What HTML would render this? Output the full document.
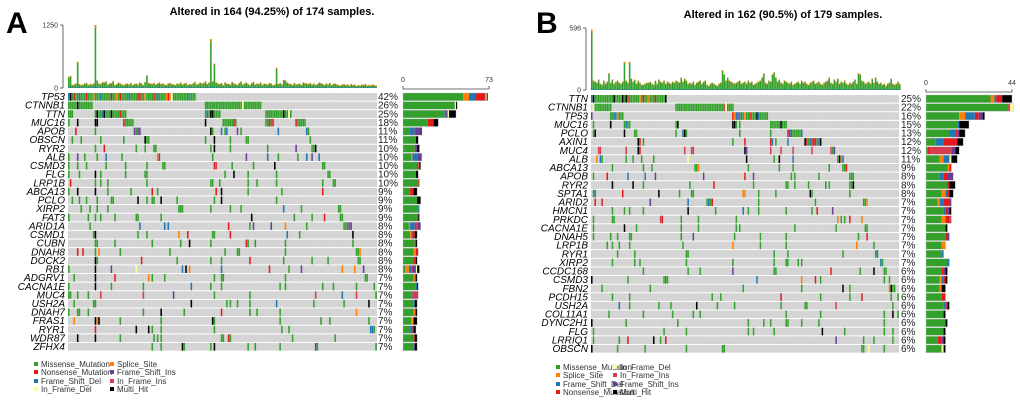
<!DOCTYPE html>
<html><head><meta charset="utf-8"><style>
html,body{margin:0;padding:0;background:#fff;width:1020px;height:400px;overflow:hidden}
svg{display:block;font-family:"Liberation Sans",sans-serif}
</style></head><body>
<svg id="chart" width="1020" height="400" viewBox="0 0 1020 400"></svg>
<script>
const COLORS={m:'#33a02c',n:'#e31a1c',d:'#1f78b4',s:'#ff7f00',i:'#6a3d9a',I:'#d53e4f',D:'#ffff99',h:'#000000'};
const ORDER=['m','s','d','n','I','i','D','h'];

// ---- Panel A data ----
const genesA=['TP53','CTNNB1','TTN','MUC16','APOB','OBSCN','RYR2','ALB','CSMD3','FLG','LRP1B','ABCA13','PCLO','XIRP2','FAT3','ARID1A','CSMD1','CUBN','DNAH8','DOCK2','RB1','ADGRV1','CACNA1E','MUC4','USH2A','DNAH7','FRAS1','RYR1','WDR87','ZFHX4'];
const pctA=['42%','26%','25%','18%','11%','11%','10%','10%','10%','10%','10%','9%','9%','9%','9%','8%','8%','8%','8%','8%','8%','7%','7%','7%','7%','7%','7%','7%','7%','7%'];
const rowsA=[
'0dhmnmmdmmmnmmmsmmmdmmmmmnmmsmnmmmmdmmmmnnmmsmmmmnmdmmmmsnsDmmmmmmmmdmmmm',
'0mmmmmhmmmmmmmm 77mmmmmmmmmmmmmmmmmmmmmDmmmmmmmmmm',
'0mmm 15mhmmdhmmmhmmmmnmmm 77mdmhhmmmm 111mmmmmmmmmmhmmDm',
'0m 5h 15hh 31nmmmmm 77h 87mmmmmmnm 111mmnmn 128nmmmmm',
'4n 15m 37imii 80hm 86d 88md 95i 97m 118d 134dm',
'2m 7m 18m 31m 43hmm 77m 82h 91m 100mm 136m',
'15m 20n 38m 43m 48mm 80m 82h 91m 112m 128i 137mmh',
'0m 5i 9m 16m 21d 30m 50si 81m 100i 112d 118m 129m 134d 137i 141d',
'0m 5m 10m 21m 32m 44m 53mm 82nI 92m 104m 116h 143mm',
'0m 6m 15h 18m 32m 43mm 88m 93h 101m 117m 146mm',
'1n 15m 18m 22m 44m 80mm 85m 101m 106m 117m 143m 149mm',
'0m 5h 15h 22m 35m 47n 50m 83n 86h 101m 120m 143n',
'2m 6m 10m 16m 24mm 39h 44m 47mm 52h 61m 82m 86h 117m',
'7m 12m 16m 22m 62mmm 80m 91m 97m 121d 131m 152mm',
'0m 11m 15m 18m 26m 38mm 52m 103h 127m 137m 144n 153mm',
'12m 40d 54d 56d 90n 102m 104i 114i 122s 134m 155mmIdi',
'14mh 39m 44m 62s 67n 81mm 91n 123d 130m 160h',
'15mm 26m 47m 63m 68h 80m 100nm 105m 122m 160m',
'5n 8n 15m 17s 29m 57m 88m 95mm 122m 162mms',
'15hm 41n 61m 80m 86m 102n 121m 137m 146m 163mm',
'0m 15h 24i 38D 64d 66h 68s 86d 113n 124m 131i 154s 161s 166i',
'3m 15h 26n 45s 47m 54m 82m 86mm 122m 167mm',
'0m 15h 24m 42m 69d 80m 86m 119m 122m 143m 149m 162m 172m',
'0mm 5m 11m 18I 42I 59i 82m 102m 139I 154d 162I 173m',
'3m 14mm 69h 89m 91m 95m 102m 117d 138m 155m 169h',
'0m 5mm 11m 42m 52h 65m 86n 102m 106m 119m 162s',
'3s 15h 16s 17h 29m 52m 81h 82m 119m 142m 147m 169m',
'15n 38h 45h 47m 52m 82m 120m 124m 170dd 172m',
'5h 15h 29m 48m 50m 52m 86mm 90n 91m 126m 150m',
'47m 52m 64h 65m 80m 82h 101m 105m 119m 139i 140m 173m'
];
const topA=[220,240,60,70,90,520,80,60,70,90,100,60,80,70,90,1250,150,90,80,120,110,130,70,90,100,140,60,80,110,90,70,60,80,90,70,100,60,80,90,70,110,90,60,120,250,100,90,80,100,70,90,110,80,90,70,60,90,100,80,70,60,90,80,110,70,90,100,60,80,70,90,120,70,80,110,90,100,130,80,110,970,130,480,110,90,80,100,60,110,90,80,70,120,90,80,60,100,130,70,90,110,80,60,100,120,70,90,80,110,60,90,80,70,100,90,60,70,400,80,100,70,160,150,110,90,80,60,100,70,80,90,60,110,100,90,80,100,70,90,60,80,110,100,80,60,90,70,100,60,80,90,70,60,50,70,80,60,70,50,80,60,70,40,60,50,70,60,80,50,60,50,70,60,50];
const tickA=['0','1250'];const sideTickA=['0','73'];const sideMaxA=73;

// ---- Panel B data ----
const genesB=['TTN','CTNNB1','TP53','MUC16','PCLO','AXIN1','MUC4','ALB','ABCA13','APOB','RYR2','SPTA1','ARID2','HMCN1','PRKDC','CACNA1E','DNAH5','LRP1B','RYR1','XIRP2','CCDC168','CSMD3','FBN2','PCDH15','USH2A','COL11A1','DYNC2H1','FLG','LRRIQ1','OBSCN'];
const pctB=['25%','22%','16%','15%','13%','12%','12%','11%','9%','8%','8%','8%','7%','7%','7%','7%','7%','7%','7%','7%','6%','6%','6%','6%','6%','6%','6%','6%','6%','6%'];
const rowsB=[
'0dhmmmmmmmmmmmhmmmmhmhnmmmmmmsmnmmsmmmnmmmmmh',
'1Dmmmmmmmmmm 49mmmmmmmmmmmmmmmmmmmmmmmmmmmmIDmmmm',
'0i 11mmddsmmm 82nsdimdmsmmnmmmhdmmmmm',
'1m 11h 19mdmm 49mh 82hhm 86m 104mmmmmmhmmm',
'1mh 19h 25mm 49m 53dhm 86m 104m 114nidmmmmmd',
'27hn 30m 82m 89n 104nd 107m 114d 124hnmdnnnmdh',
'4II 20I 27h 28n 54I 58II 89hi 104I 110I 117I 128I 139Imi',
'3s 5dm 20m 24m 29m 36m 56D 90h 106m 109h 117d 143mhsd',
'12m 30m 35m 60mms 91m 109m 117m 138m 146mmn',
'1m 9n 21d 31d 37i 65i 89n 94i 116m 118m 132m 150mmm',
'12h 24h 30m 57m 71n 94m 113mm 118m 126m 136m 138m 150mmh',
'1md 18n 39h 51m 58m 59m 88s 89s 97m 107m 127h 128m 150m',
'2n 6n 34i 56d 67mdmn 97m 130m 158mms',
'12m 19m 22m 30m 56h 72m 88d 91m 97m 113m 128m 131n 140i',
'1m 12mm 40In 52m 62m 84m 143s 145m 147m 150n 157s',
'1m 19h 26m 52m 62m 84m 86m 118m 142m 159mm',
'1m 11m 15m 22mm 52m 59i 83m 98m 113m 155m 160n',
'9m 12m 16m 22m 53m 82s 98m 113m 154s 164m',
'15m 25m 55mm 106m 114m 146m 165md',
'12m 25m 28m 55m 82m 106m 113mm 120m 122m 168dm',
'30m 56m 63m 82i 106mm 139n 156m 164h 170mm',
'0h 21m 42mmm 96d 122s 130n 133m 170m 173m',
'6m 34m 88m 122m 146h 150m 173shmm',
'12m 22m 70m 75m 110n 133m 150m 157n 174m 178m',
'16d 22m 39m 46m 61h 73m 83m 110m 124mm 142I 175m',
'10m 30m 47m 59m 63m 113m 133m 170m 175h 178m',
'0h 20m 50m 91m 100m 104m 113m 114m 122m 132m 170m',
'1m 42m 55m 91m 94m 106m 134h 147m 170m 175m',
'1m 16m 21n 36h 40m 43n 142i 158m 164m 175m',
'0h 15m 31m 55m 76mm 157mm 161D 170m'
];
const topB=[580,90,80,70,100,60,50,90,60,80,160,70,100,60,80,90,70,60,80,270,90,70,270,110,80,100,60,90,70,50,50,60,70,70,80,60,50,90,60,100,80,70,90,60,80,70,60,80,70,90,80,70,120,80,110,90,60,70,60,80,50,70,80,90,60,80,90,50,40,60,70,60,50,40,60,70,190,150,90,120,90,80,70,60,70,80,90,60,70,80,60,90,70,80,50,60,70,80,90,120,160,70,60,90,80,150,170,120,80,100,70,60,90,80,70,60,80,50,60,70,80,60,90,70,80,60,50,70,80,90,60,70,80,60,50,70,80,90,120,70,60,100,80,110,60,80,70,90,60,50,70,60,80,100,60,160,150,90,80,60,70,80,60,110,70,120,80,60,70,50,60,40,60,70,110,60,50,60,80,60];
const tickB=['0','596'];const sideTickB=['0','44'];const sideMaxB=44;

const svg=document.getElementById('chart');
const NS='http://www.w3.org/2000/svg';
function mk(tag,attrs,parent){const e=document.createElementNS(NS,tag);for(const k in attrs)e.setAttribute(k,attrs[k]);(parent||svg).appendChild(e);return e;}
function parseRow(str,n){const cells=new Array(n).fill(null);str.trim().split(/\s+/).forEach(tok=>{const m=tok.match(/^(\d+)(.*)$/);let s=+m[1];for(const c of m[2]){if(s<n)cells[s]=c;s++;}});return cells;}

function panel(cfg){
  const g=mk('g',{});
  
  
  const N=cfg.n, cw=(cfg.x1-cfg.x0)/N;
  const xS=i=>cfg.x0+i*cw;
  const L=mk('text',{x:cfg.letterX,y:33,'font-size':30,'font-weight':'bold'},g);L.textContent=cfg.letter;
  
  const T=mk('text',{x:cfg.titleX,y:cfg.titleY,'font-size':11,'font-weight':'bold','text-anchor':'middle'},g);T.textContent=cfg.title;
  
  const tg=mk('g',{},g);
  
  const yTop=cfg.topY0,yBot=cfg.topY1,ymax=+cfg.ticks[1];
  const yS=v=>yBot-(v/ymax)*(yBot-yTop);
  mk('line',{x1:cfg.x0-5,x2:cfg.x0-5,y1:yTop,y2:yBot,stroke:'#444','stroke-width':0.8},tg);
  cfg.ticks.forEach(t=>{const y=yS(+t);mk('line',{x1:cfg.x0-8,x2:cfg.x0-5,y1:y,y2:y,stroke:'#444','stroke-width':0.8},tg);
    const tx=mk('text',{x:cfg.x0-10,y:y+2.5,'font-size':7,'text-anchor':'end',fill:'#333'},tg);tx.textContent=t;
    });
  cfg.top.forEach((v,i)=>{
    const y=yS(v),h=yBot-y;
    const b=mk('rect',{x:xS(i),y:y,width:cw*0.9,height:h,fill:COLORS.m},tg);
    
    mk('rect',{x:xS(i),y:y,width:cw*0.9,height:Math.min(h,Math.max(0.8,h*0.05)),fill:COLORS.s},tg);
    mk('rect',{x:xS(i),y:yBot-Math.max(0.6,h*0.03),width:cw*0.9,height:Math.max(0.6,h*0.03),fill:COLORS.d},tg);
  });
  const mg=mk('g',{},g);
  const rh=cfg.rh;
  const sx0=cfg.sideX0,sx1=cfg.sideX1,sS=v=>(v/cfg.sideMax)*(sx1-sx0);
  const sg=mk('g',{},g);
  mk('path',{d:`M${sx0},${cfg.sideAxisY-3}V${cfg.sideAxisY}H${sx1}V${cfg.sideAxisY-3}`,fill:'none',stroke:'#444','stroke-width':0.8},sg);
  cfg.sideTicks.forEach(t=>{const tx=mk('text',{x:sx0+sS(+t),y:cfg.sideAxisY-7,'font-size':7,'text-anchor':'middle',fill:'#333'},sg);tx.textContent=t;
    });
  cfg.genes.forEach((gn,r)=>{
    const y=cfg.y0+r*rh;
    mk('rect',{x:cfg.x0,y:y,width:cfg.x1-cfg.x0,height:rh-1,fill:'#d2d2d2'},mg);
    const cells=parseRow(cfg.rows[r],N);
    const counts={};
    cells.forEach((c,i)=>{if(!c)return;counts[c]=(counts[c]||0)+1;
      const rc=mk('rect',{x:xS(i),y:y,width:cw*0.92,height:rh-1,fill:COLORS[c]},mg);
      });
    const lb=mk('text',{x:cfg.x0-3,y:y+rh-1.5,'font-size':10,'font-style':'italic','text-anchor':'end'},g);lb.textContent=gn;
    
    const pt=mk('text',{x:cfg.pctX,y:y+rh-1.5,'font-size':10,fill:'#222'},g);pt.textContent=cfg.pct[r];
    
    let cx=sx0;
    ORDER.forEach(k=>{if(!counts[k])return;const w=sS(counts[k]);
      const br=mk('rect',{x:cx,y:y,width:w,height:rh-1,fill:COLORS[k]},sg);
      cx+=w;});
    mk('rect',{x:sx0,y:y,width:cx-sx0,height:rh-1,fill:'none',stroke:'#bbb','stroke-width':0.4},sg);
  });
  for(let i=1;i<N;i++)mk('line',{x1:xS(i)-0.1,x2:xS(i)-0.1,y1:cfg.y0,y2:cfg.y0+rh*cfg.genes.length,stroke:'#fff','stroke-width':0.15,opacity:0.6},mg);
  const lg=mk('g',{},g);
  cfg.legend.forEach(([lbl,c,x,y])=>{
    mk('rect',{x:x,y:y-5,width:4,height:4,fill:COLORS[c]},lg);
    const t=mk('text',{x:x+7,y:y,'font-size':8,fill:'#333'},lg);t.textContent=lbl;
    
  });
}

panel({name:'panel-a',letter:'A',letterX:6,title:'Altered in 164 (94.25%) of 174 samples.',titleX:272,titleY:15,
  n:174,x0:68,x1:377,topY0:25,topY1:88,top:topA,ticks:tickA,y0:93,rh:8.62,genes:genesA,rows:rowsA,pct:pctA,pctX:378,
  sideX0:403,sideX1:489,sideMax:sideMaxA,sideTicks:sideTickA,sideAxisY:89,
  legend:[['Missense_Mutation','m',34,367],['Nonsense_Mutation','n',34,375],['Frame_Shift_Del','d',34,384],['In_Frame_Del','D',34,392],
          ['Splice_Site','s',110,367],['Frame_Shift_Ins','i',110,375],['In_Frame_Ins','I',110,384],['Multi_Hit','h',110,392]]});
panel({name:'panel-b',letter:'B',letterX:536,title:'Altered in 162 (90.5%) of 179 samples.',titleX:783,titleY:18,
  n:179,x0:591,x1:899,topY0:28,topY1:90,top:topB,ticks:tickB,y0:95,rh:8.62,genes:genesB,rows:rowsB,pct:pctB,pctX:901,
  sideX0:926,sideX1:1012,sideMax:sideMaxB,sideTicks:sideTickB,sideAxisY:92,
  legend:[['Missense_Mutation','m',556,370],['Splice_Site','s',556,378],['Frame_Shift_Del','d',556,387],['Nonsense_Mutation','n',556,395],
          ['In_Frame_Del','D',613,370],['In_Frame_Ins','I',613,378],['Frame_Shift_Ins','i',613,387],['Multi_Hit','h',613,395]]});
</script>
</body></html>
